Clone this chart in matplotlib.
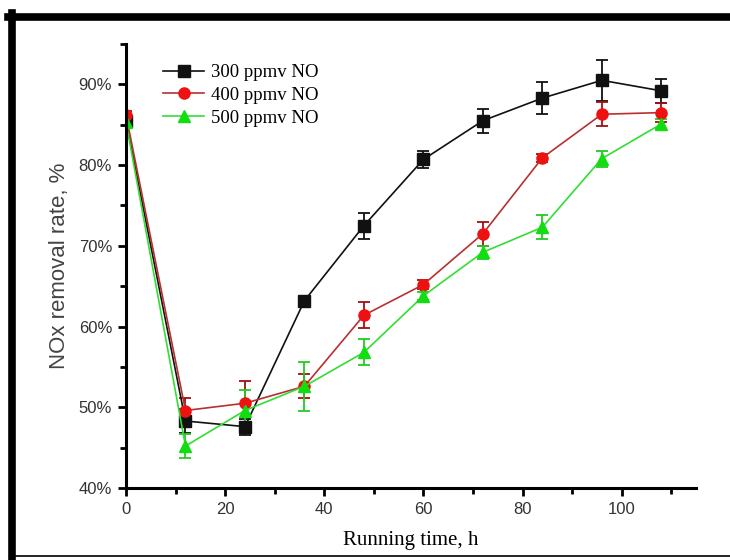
import matplotlib
matplotlib.use("Agg")
import matplotlib.pyplot as plt
from matplotlib.lines import Line2D
from matplotlib.ticker import MultipleLocator, FuncFormatter

# ---- data ----
time_h = [0, 12, 24, 36, 48, 60, 72, 84, 96, 108]
labels = ["300 ppmv NO", "400 ppmv NO", "500 ppmv NO"]
rate_300 = [85.5, 48.3, 47.6, 63.2, 72.5, 80.7, 85.5, 88.3, 90.5, 89.2]
err_300 = [0.5, 1.5, 1.0, 0.5, 1.6, 1.0, 1.5, 2.0, 2.5, 1.5]
rate_400 = [86.2, 49.6, 50.5, 52.6, 61.4, 65.2, 71.5, 80.9, 86.3, 86.5]
err_400 = [0.5, 1.5, 2.8, 1.5, 1.6, 0.6, 1.5, 0.5, 1.5, 1.2]
rate_500 = [85.3, 45.2, 49.6, 52.6, 56.8, 63.8, 69.2, 72.3, 80.8, 85.1]
err_500 = [0.5, 1.5, 2.6, 3.0, 1.6, 0.5, 0.8, 1.5, 1.0, 0.6]

plt.rcParams["font.family"] = ["Liberation Sans", "DejaVu Sans"]

fig = plt.figure(figsize=(7.3, 5.6), dpi=100)
fig.patch.set_facecolor("white")
ax = fig.add_axes([126 / 730, 72 / 560, 570 / 730, 444 / 560])

series = [
    (rate_300, err_300, "s", "#111111", "#111111", "#111111", 8),
    (rate_400, err_400, "o", "#b83030", "#ee1111", "#a01010", 8),
    (rate_500, err_500, "^", "#33dd33", "#11dd11", "#22cc22", 8.5),
]
handles = []
for (vals, errs, mk, lc, mc, ec, ms), lab in zip(series, labels):
    ax.errorbar(time_h, vals, yerr=errs, color=lc, marker=mk, markersize=ms,
                markerfacecolor=mc, markeredgecolor=mc, linewidth=1.2,
                ecolor=ec, elinewidth=1.3, capsize=4, capthick=1.3)
    handles.append(Line2D([], [], color=lc, marker=mk, markersize=ms,
                          markerfacecolor=mc, markeredgecolor=mc, linewidth=1.2,
                          label=lab))

ax.set_xlim(0, 115)
ax.set_ylim(40, 95)
ax.xaxis.set_major_locator(MultipleLocator(20))
ax.xaxis.set_minor_locator(MultipleLocator(10))
ax.yaxis.set_major_locator(MultipleLocator(10))
ax.yaxis.set_minor_locator(MultipleLocator(5))
ax.yaxis.set_major_formatter(FuncFormatter(lambda v, p: f"{int(round(v))}%"))

for s in ["top", "right"]:
    ax.spines[s].set_visible(False)
for s in ["left", "bottom"]:
    ax.spines[s].set_linewidth(2.2)
ax.tick_params(which="major", direction="out", length=6, width=2, labelsize=12,
               labelcolor="#333333", pad=4)
ax.tick_params(which="minor", direction="out", length=4, width=2)
for lbl in ax.get_xticklabels() + ax.get_yticklabels():
    lbl.set_fontfamily(["Liberation Sans Narrow", "Liberation Sans", "DejaVu Sans"])

ax.set_ylabel("NOx removal rate, %", fontsize=16, color="#444444", labelpad=6)
ax.set_xlabel("Running time, h", fontsize=15, family=["Liberation Serif", "DejaVu Serif"],
              labelpad=10)

leg = ax.legend(handles=handles, loc="upper left", bbox_to_anchor=(0.065, 0.955),
                frameon=False,
                prop={"family": ["Liberation Serif", "DejaVu Serif"], "size": 13.5},
                handlelength=2.2, handletextpad=0.35, labelspacing=0.3, borderpad=0,
                borderaxespad=0)

# outer frame
fig.add_artist(Line2D([8 / 730, 1.0], [1 - 16.5 / 560] * 2, color="black", linewidth=5.5,
                      transform=fig.transFigure))
fig.add_artist(Line2D([12 / 730] * 2, [0, 1 - 13 / 560], color="black", linewidth=5.5,
                      transform=fig.transFigure))
fig.add_artist(Line2D([12 / 730, 1.0], [4 / 560] * 2, color="black", linewidth=1.2,
                      transform=fig.transFigure))

fig.savefig("out.png", dpi=100)
